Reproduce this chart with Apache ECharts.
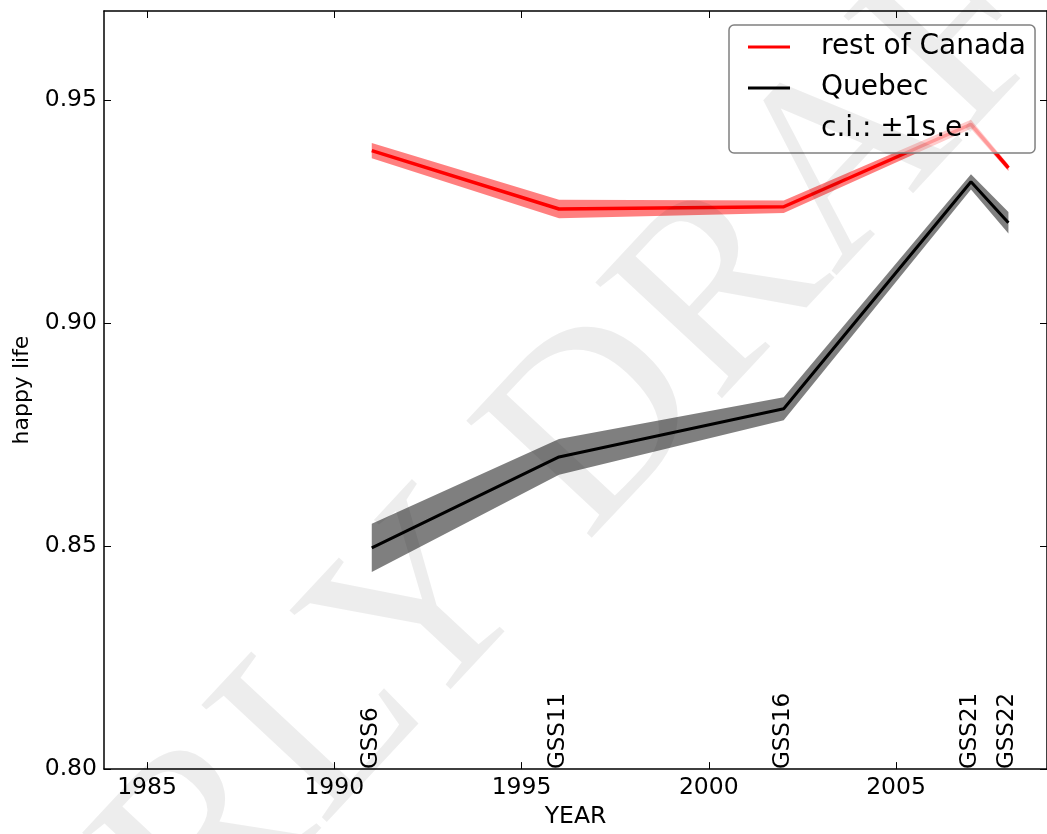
<!DOCTYPE html>
<html>
<head>
<meta charset="utf-8">
<script src="https://cdn.jsdelivr.net/npm/echarts@6/dist/echarts.min.js"></script>
<style>
html,body{margin:0;padding:0;background:#fff;}
#chart{width:1047px;height:834px;}
</style>
</head>
<body>
<div id="chart"></div>
<script>
// ---- data ----
const years = [1991, 1996, 2002, 2007, 2008];
const surveyLabels = ['GSS6', 'GSS11', 'GSS16', 'GSS21', 'GSS22'];
const restOfCanada = [0.9387, 0.9256, 0.9261, 0.9446, 0.9348];
const restOfCanadaSE = [0.0017, 0.0021, 0.0014, 0.0010, 0.0007];
const quebec = [0.8496, 0.8700, 0.8808, 0.9317, 0.9225];
const quebecSE = [0.0054, 0.0040, 0.0026, 0.0017, 0.0024];
const xTicks = [1985, 1990, 1995, 2000, 2005];
const yTicks = [0.80, 0.85, 0.90, 0.95];
const xMin = 1983.85, xMax = 2009.03;
const yMin = 0.80, yMax = 0.97;

const FONT = 'DejaVu Sans';
const chart = echarts.init(document.getElementById('chart'), null, {renderer: 'canvas'});

function baseX(pos, showLabel) {
  return {
    type: 'value', min: xMin, max: xMax, position: pos,
    axisLine: {show: true, onZero: false, lineStyle: {color: '#000', width: 1.5}},
    axisTick: {show: true, inside: true, length: 7, customValues: xTicks, lineStyle: {color: '#000', width: 1}},
    axisLabel: {show: showLabel, customValues: xTicks, fontSize: 23.5, fontFamily: FONT, color: '#000', margin: 7,
      formatter: v => String(v)},
    splitLine: {show: false}
  };
}
function baseY(pos, showLabel) {
  return {
    type: 'value', min: yMin, max: yMax, position: pos,
    axisLine: {show: true, onZero: false, lineStyle: {color: '#000', width: 1.5}},
    axisTick: {show: true, inside: true, length: 7, customValues: yTicks, lineStyle: {color: '#000', width: 1}},
    axisLabel: {show: showLabel, customValues: yTicks, fontSize: 23.5, fontFamily: FONT, color: '#000', margin: 7,
      formatter: v => v.toFixed(2)},
    splitLine: {show: false}
  };
}

const xBottom = Object.assign(baseX('bottom', true), {
  name: 'YEAR', nameLocation: 'middle', nameGap: 34,
  nameTextStyle: {fontSize: 23.5, fontFamily: FONT, color: '#000'}
});
const yLeft = Object.assign(baseY('left', true), {
  name: 'happy life', nameLocation: 'middle', nameGap: 70,
  nameTextStyle: {fontSize: 22, fontFamily: FONT, color: '#000'}
});

function bandSeries(name, vals, se, color) {
  return {
    name: name, type: 'custom', silent: true, z: 1,
    data: [[years[0], vals[0]]],
    renderItem: function (params, api) {
      const upper = years.map((y, i) => api.coord([y, vals[i] + se[i]]));
      const lower = years.map((y, i) => api.coord([y, vals[i] - se[i]])).reverse();
      return {type: 'polygon', shape: {points: upper.concat(lower)}, style: {fill: color}};
    }
  };
}

const option = {
  backgroundColor: '#fff',
  animation: false,
  grid: {left: 104, top: 11, width: 944, height: 761, containLabel: false},
  xAxis: [xBottom, baseX('top', false)],
  yAxis: [yLeft, baseY('right', false)],
  legend: {
    data: [
      {name: 'rest of Canada', icon: 'rect'},
      {name: 'Quebec', icon: 'rect'},
      {name: 'c.i.: \u00b11s.e.', icon: 'none'}
    ],
    orient: 'vertical', left: 729, top: 25,
    itemWidth: 42, itemHeight: 3, itemGap: 11,
    padding: [7, 9, 9, 19],
    backgroundColor: 'rgba(255,255,255,0.6)', borderColor: '#808080', borderWidth: 1.5, borderRadius: 5,
    textStyle: {fontSize: 28, fontFamily: FONT, color: '#000', lineHeight: 30, padding: [0, 0, 0, 26]},
    selectedMode: false, z: 10
  },
  series: [
    bandSeries('qcBand', quebec, quebecSE, 'rgba(0,0,0,0.5)'),
    {
      name: 'Quebec', type: 'line', symbol: 'none', silent: true, color: '#000',
      data: years.map((y, i) => [y, quebec[i]]),
      lineStyle: {color: '#000', width: 3}, itemStyle: {color: '#000'}, z: 3
    },
    bandSeries('rcBand', restOfCanada, restOfCanadaSE, 'rgba(255,0,0,0.5)'),
    {
      name: 'rest of Canada', type: 'line', symbol: 'none', silent: true, color: '#ff0000',
      data: years.map((y, i) => [y, restOfCanada[i]]),
      lineStyle: {color: '#ff0000', width: 3.5}, itemStyle: {color: '#ff0000'}, z: 3
    },
    {name: 'c.i.: \u00b11s.e.', type: 'line', data: [], symbol: 'none'},
    {
      name: 'surveys', type: 'scatter', silent: true, symbolSize: 1,
      itemStyle: {color: 'rgba(0,0,0,0)'},
      data: years.map((y, i) => ({value: [y, yMin], name: surveyLabels[i]})),
      label: {
        show: true, formatter: '{b}', position: 'inside', rotate: 90,
        align: 'left', verticalAlign: 'middle', offset: [0, -1],
        fontSize: 23, fontFamily: FONT, color: '#000', opacity: 1, textBorderWidth: 0
      },
      z: 5
    }
  ],
  graphic: [{
    type: 'text', x: 518, y: 516, rotation: 47 * Math.PI / 180, z: 100, silent: true,
    style: {
      text: 'EARLY DRAFT', fontSize: 262, fontFamily: 'Liberation Serif',
      fill: 'rgba(0,0,0,0.07)', align: 'center', verticalAlign: 'middle'
    }
  }]
};
chart.setOption(option);
</script>
</body>
</html>
